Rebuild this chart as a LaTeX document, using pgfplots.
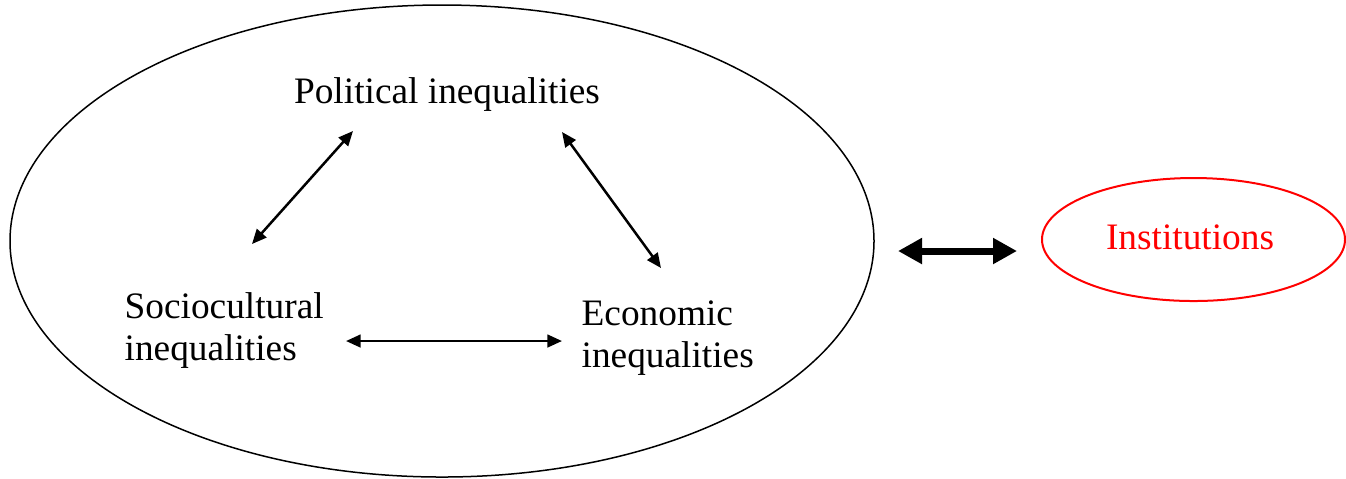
\documentclass[border=0pt]{standalone}
\usepackage{pgfplots}
\pgfplotsset{compat=1.18}
\usepackage{fontspec}
\setmainfont{Liberation Serif}
\usetikzlibrary{arrows.meta}
\begin{document}
\begin{tikzpicture}
\begin{axis}[
  width=403.8pt, height=143.4pt, scale only axis,
  xmin=0, xmax=1346, ymin=0, ymax=478, y dir=reverse,
  hide axis, clip=false,
]
\path (axis cs:0,0) rectangle (axis cs:1346,478);
% big ellipse
\draw[black, line width=0.45pt] (axis cs:442,241) ellipse [x radius=432, y radius=236];
% institutions ellipse
\draw[red, line width=0.6pt] (axis cs:1193.5,239.5) ellipse [x radius=151.5, y radius=61.5];
% thin arrows
\addplot[black, line width=0.75pt, {Triangle[length=4.4pt,width=3.8pt]}-{Triangle[length=4.4pt,width=3.8pt]}] coordinates {(252,244) (353,131)};
\addplot[black, line width=0.75pt, {Triangle[length=4.4pt,width=3.8pt]}-{Triangle[length=4.4pt,width=3.8pt]}] coordinates {(562,132) (661,268)};
\addplot[black, line width=0.75pt, {Triangle[length=4.4pt,width=3.8pt]}-{Triangle[length=4.4pt,width=3.8pt]}] coordinates {(346,341) (562,341)};
% thick arrow
\addplot[black, line width=2.1pt, {Triangle[length=7.2pt,width=7.4pt]}-{Triangle[length=7.2pt,width=7.4pt]}] coordinates {(898,251) (1017,251)};
% labels
\node[anchor=base, font=\fontsize{11.2}{12}\selectfont, inner sep=0pt] at (axis cs:447,103) {Political inequalities};
\node[anchor=base west, font=\fontsize{11.2}{12}\selectfont, inner sep=0pt] at (axis cs:124,318) {Sociocultural};
\node[anchor=base west, font=\fontsize{11.2}{12}\selectfont, inner sep=0pt] at (axis cs:124,360) {inequalities};
\node[anchor=base west, font=\fontsize{11.2}{12}\selectfont, inner sep=0pt] at (axis cs:581,325) {Economic};
\node[anchor=base west, font=\fontsize{11.2}{12}\selectfont, inner sep=0pt] at (axis cs:581,367) {inequalities};
\node[anchor=base, text=red, font=\fontsize{11.2}{12}\selectfont, inner sep=0pt] at (axis cs:1190,249) {Institutions};
\end{axis}
\end{tikzpicture}
\end{document}
